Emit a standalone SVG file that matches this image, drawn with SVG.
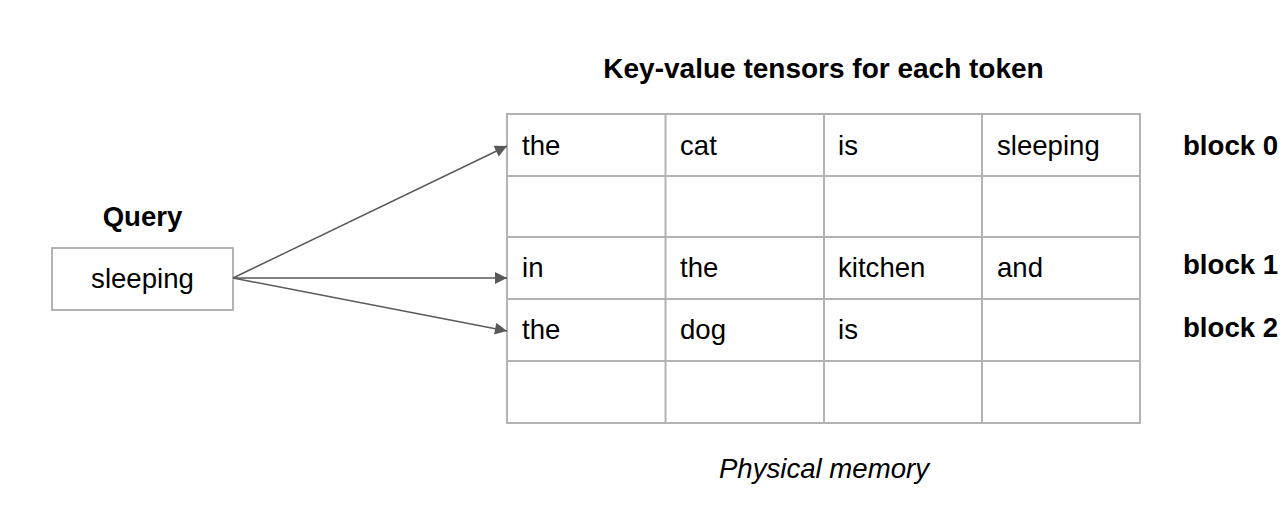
<svg xmlns="http://www.w3.org/2000/svg" width="1285" height="511" viewBox="0 0 1285 511">
<style>
text{font-family:"Liberation Sans",Arial,sans-serif;font-size:27.6px;fill:#000}
.b{font-weight:bold}
.t{font-size:28px}
.i{font-style:italic}
.g{stroke:#b3b3b3;stroke-width:2;fill:none}
.c{stroke:#595959;stroke-width:1.5;fill:none}
</style>
<defs>
<marker id="ah" viewBox="0 0 10 10" refX="10" refY="5" markerWidth="13" markerHeight="12" markerUnits="userSpaceOnUse" orient="auto">
<path d="M0,0 L10,5 L0,10 z" fill="#595959"/>
</marker>
</defs>
<rect width="1285" height="511" fill="#fff"/>
<text class="b t" x="823.5" y="78" text-anchor="middle">Key-value tensors for each token</text>
<g id="query">
<text class="b" x="142.5" y="226" text-anchor="middle">Query</text>
<rect class="g" x="52" y="248" width="181" height="62"/>
<text x="142.5" y="288" text-anchor="middle">sleeping</text>
</g>
<g id="grid">
<rect class="g" x="507" y="114" width="633" height="309"/>
<path class="g" d="M665.5,114V423M824,114V423M982,114V423M507,176H1140M507,237H1140M507,299H1140M507,361H1140"/>
<text x="522" y="155">the</text>
<text x="680" y="155">cat</text>
<text x="838" y="155">is</text>
<text x="997" y="155">sleeping</text>
<text x="522" y="277">in</text>
<text x="680" y="277">the</text>
<text x="838" y="277">kitchen</text>
<text x="997" y="277">and</text>
<text x="522" y="339">the</text>
<text x="680" y="339">dog</text>
<text x="838" y="339">is</text>
</g>
<g id="labels">
<text class="b" x="1183" y="155">block 0</text>
<text class="b" x="1183" y="274">block 1</text>
<text class="b" x="1183" y="337">block 2</text>
<text class="i" x="824" y="478" text-anchor="middle">Physical memory</text>
</g>
<g id="connectors">
<line class="c" x1="233" y1="278" x2="507" y2="146" marker-end="url(#ah)"/>
<line class="c" x1="233" y1="278" x2="507" y2="278" marker-end="url(#ah)"/>
<line class="c" x1="233" y1="278" x2="507" y2="331" marker-end="url(#ah)"/>
</g>
</svg>
